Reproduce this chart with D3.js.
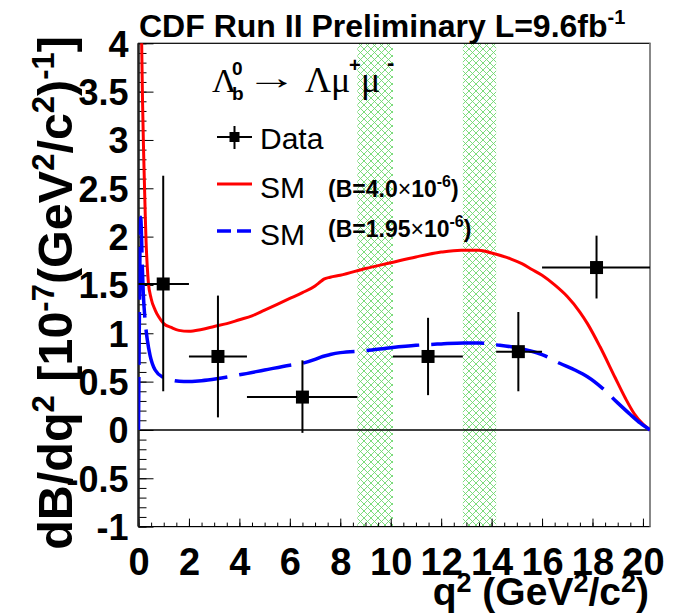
<!DOCTYPE html>
<html>
<head>
<meta charset="utf-8">
<script src="https://cdn.jsdelivr.net/npm/d3@7"></script>
<style>
body { margin: 0; background: #fff; }
text { font-family: "Liberation Sans", Arial, sans-serif; }
</style>
</head>
<body>
<svg width="675" height="613"></svg>
<script>
// measured bins, central values and symmetric errors
var binLo = [0, 2, 4.3, 10.09, 14.18, 16];
var binHi = [2, 4.3, 8.68, 12.86, 16, 20.28];
var binX = [0.98, 3.15, 6.5, 11.48, 15.06, 18.16];
var dataVal = [1.51, 0.76, 0.34, 0.76, 0.81, 1.68];
var errUp = [1.12, 0.63, 0.38, 0.40, 0.41, 0.33];
var errDown = [1.11, 0.63, 0.37, 0.40, 0.41, 0.32];

// charmonium veto regions
var vetoLo = [8.68, 12.86];
var vetoHi = [10.09, 14.18];

// SM prediction B=4.0e-6
var redQ = [0.12, 0.16, 0.2, 0.24, 0.27, 0.3, 0.35, 0.39, 0.5, 0.66, 0.8, 1.0, 1.3, 1.6, 2.0, 2.5, 3.0, 3.5, 4.0, 4.5, 5.0, 5.5, 6.0, 6.5, 7.0, 7.2, 7.35, 7.6, 8.0, 9.0, 10.0, 11.0, 12.0, 12.8, 13.5, 14.0, 14.75, 15.2, 15.6, 16.0, 16.5, 17.0, 17.5, 17.8, 18.3, 18.9, 19.3, 19.65, 20.0, 20.28];
var redV = [4.1, 3.4, 2.9, 2.5, 2.2, 1.95, 1.68, 1.53, 1.36, 1.24, 1.17, 1.10, 1.06, 1.03, 1.02, 1.04, 1.07, 1.10, 1.14, 1.18, 1.24, 1.30, 1.36, 1.42, 1.49, 1.53, 1.56, 1.58, 1.60, 1.67, 1.73, 1.79, 1.84, 1.86, 1.86, 1.83, 1.77, 1.72, 1.66, 1.60, 1.50, 1.38, 1.22, 1.10, 0.86, 0.54, 0.33, 0.17, 0.06, 0];

// SM prediction B=1.95e-6
var blueQ = [0.0, 0.03, 0.06, 0.09, 0.12, 0.15, 0.19, 0.26, 0.35, 0.46, 0.66, 1.0, 1.4, 1.8, 2.5, 3.1, 4.0, 5.0, 6.0, 6.5, 7.0, 7.3, 7.6, 8.0, 9.0, 10.0, 11.0, 12.0, 12.9, 13.5, 14.2, 15.0, 15.5, 16.0, 16.7, 17.3, 17.8, 18.4, 19.0, 19.5, 19.9, 20.28];
var blueV = [0, 1.0, 1.9, 2.2, 2.0, 1.7, 1.41, 1.14, 0.93, 0.77, 0.62, 0.54, 0.51, 0.50, 0.51, 0.53, 0.57, 0.62, 0.67, 0.69, 0.73, 0.76, 0.78, 0.80, 0.82, 0.85, 0.875, 0.89, 0.90, 0.90, 0.88, 0.85, 0.82, 0.78, 0.69, 0.62, 0.55, 0.43, 0.28, 0.16, 0.07, 0];

var xMajor = [0, 2, 4, 6, 8, 10, 12, 14, 16, 18, 20];
var yMajor = [-1, -0.5, 0, 0.5, 1, 1.5, 2, 2.5, 3, 3.5, 4];

var svg = d3.select("svg");
var pLeft = 138.5, pRight = 650, pTop = 43.3, pBottom = 526.6;

var x = d3.scaleLinear().domain([0, 20.28]).range([pLeft, pRight]);
var y = d3.scaleLinear().domain([-1, 4]).range([pBottom, pTop]);

// hatch pattern
var defs = svg.append("defs");
var pat = defs.append("pattern")
  .attr("id", "hatch")
  .attr("patternUnits", "userSpaceOnUse")
  .attr("width", 7).attr("height", 7);
pat.append("path").attr("d", "M0,0L7,7M7,0L0,7")
  .attr("stroke", "#6ed86e").attr("stroke-width", 0.9);
defs.append("clipPath").attr("id", "plotclip")
  .append("rect").attr("x", pLeft).attr("y", pTop)
  .attr("width", pRight - pLeft).attr("height", pBottom - pTop);

svg.selectAll(".veto")
  .data(vetoLo)
  .enter().append("rect")
  .attr("class", "veto")
  .attr("x", (d) => x(d))
  .attr("y", pTop)
  .attr("width", (d, i) => x(vetoHi[i]) - x(d))
  .attr("height", pBottom - pTop)
  .style("fill", "url(#hatch)");

// zero line
svg.append("line")
  .attr("x1", pLeft).attr("x2", pRight)
  .attr("y1", y(0)).attr("y2", y(0))
  .attr("stroke", "#000").attr("stroke-width", 1.5);

// axes
var xMinor = d3.range(0, 20.3, 0.5);
var yMinor = d3.range(-10, 40.5, 1).map((d) => d / 10);

svg.append("g")
  .attr("transform", "translate(0," + pBottom + ")")
  .call(d3.axisBottom(x).tickValues(xMinor).tickSize(-4).tickFormat(""))
  .call((g) => g.select(".domain").remove());

var xg = svg.append("g")
  .attr("transform", "translate(0," + pBottom + ")")
  .call(d3.axisBottom(x).tickValues(xMajor).tickSize(-8).tickPadding(0).tickFormat(d3.format("d")));
xg.select(".domain").remove();
xg.selectAll("text")
  .attr("y", 48).attr("dy", 0)
  .style("font-size", "38px").style("font-weight", "bold").style("fill", "#000");

svg.append("g")
  .attr("transform", "translate(" + pLeft + ",0)")
  .call(d3.axisLeft(y).tickValues(yMinor).tickSize(-8).tickFormat(""))
  .call((g) => g.select(".domain").remove());

var yg = svg.append("g")
  .attr("transform", "translate(" + pLeft + ",0)")
  .call(d3.axisLeft(y).tickValues(yMajor).tickSize(-15).tickPadding(0).tickFormat((d) => String(d)));
yg.select(".domain").remove();
yg.selectAll("text")
  .attr("x", -10).attr("dy", "0.36em")
  .style("font-size", "36px").style("font-weight", "bold").style("fill", "#000");

// frame
svg.append("rect")
  .attr("x", pLeft).attr("y", pTop)
  .attr("width", pRight - pLeft).attr("height", pBottom - pTop)
  .attr("fill", "none").attr("stroke", "#000").attr("stroke-width", 1.2);
svg.append("line")
  .attr("x1", pRight).attr("x2", pRight).attr("y1", pTop).attr("y2", pBottom)
  .attr("stroke", "#888").attr("stroke-width", 2);
svg.append("line")
  .attr("x1", pLeft).attr("x2", pLeft).attr("y1", pTop).attr("y2", pBottom)
  .attr("stroke", "#222").attr("stroke-width", 2.5);

// curves
var line = d3.line().curve(d3.curveMonotoneX);
var plot = svg.append("g").attr("clip-path", "url(#plotclip)");

plot.append("path")
  .attr("d", line(redQ.map((q, i) => [x(q), y(redV[i])])))
  .attr("fill", "none").attr("stroke", "#ff0000").attr("stroke-width", 3);

plot.append("path")
  .attr("d", line(blueQ.map((q, i) => [x(q), y(blueV[i])])))
  .attr("fill", "none").attr("stroke", "#0000ff").attr("stroke-width", 3.5)
  .attr("stroke-dasharray", "53,12");

// data points
var pts = svg.append("g");
binX.forEach(function(q, i) {
  pts.append("line")
    .attr("x1", x(binLo[i])).attr("x2", x(binHi[i]))
    .attr("y1", y(dataVal[i])).attr("y2", y(dataVal[i]))
    .attr("stroke", "#000").attr("stroke-width", 2);
  pts.append("line")
    .attr("x1", x(q)).attr("x2", x(q))
    .attr("y1", y(dataVal[i] + errUp[i])).attr("y2", y(dataVal[i] - errDown[i]))
    .attr("stroke", "#000").attr("stroke-width", 2);
  pts.append("rect")
    .attr("x", x(q) - 6.5).attr("y", y(dataVal[i]) - 6.5)
    .attr("width", 13).attr("height", 13)
    .attr("fill", "#000");
});

// title
var title = svg.append("text")
  .attr("x", 139).attr("y", 37)
  .style("font-size", "32px").style("font-weight", "bold")
  .text("CDF Run II Preliminary L=9.6fb");
title.append("tspan").attr("dy", -13).style("font-size", "20px").text("-1");

// axis titles
var xt = svg.append("text")
  .attr("x", 649).attr("y", 605)
  .attr("text-anchor", "end")
  .style("font-size", "39px").style("font-weight", "bold");
xt.append("tspan").text("q");
xt.append("tspan").attr("dy", -13).style("font-size", "27px").text("2");
xt.append("tspan").attr("dy", 13).text(" (GeV");
xt.append("tspan").attr("dy", -13).style("font-size", "27px").text("2");
xt.append("tspan").attr("dy", 13).text("/c");
xt.append("tspan").attr("dy", -13).style("font-size", "27px").text("2");
xt.append("tspan").attr("dy", 13).text(")");

var yt = svg.append("text")
  .attr("transform", "translate(72,36) rotate(-90)")
  .attr("text-anchor", "end")
  .style("font-size", "48.5px").style("font-weight", "bold");
yt.append("tspan").text("dB/dq");
yt.append("tspan").attr("dy", -18).style("font-size", "31px").text("2");
yt.append("tspan").attr("dy", 18).text(" [10");
yt.append("tspan").attr("dy", -18).style("font-size", "31px").text("-7");
yt.append("tspan").attr("dy", 18).text("(GeV");
yt.append("tspan").attr("dy", -18).style("font-size", "31px").text("2");
yt.append("tspan").attr("dy", 18).text("/c");
yt.append("tspan").attr("dy", -18).style("font-size", "31px").text("2");
yt.append("tspan").attr("dy", 18).text(")");
yt.append("tspan").attr("dy", -18).style("font-size", "31px").text("-1");
yt.append("tspan").attr("dy", 18).text("]");

// legend header: Lambda_b -> Lambda mu mu
var serif = "'Liberation Serif', 'Times New Roman', serif";
svg.append("text").attr("x", 212).attr("y", 92).style("font-family", serif).style("font-size", "34px").text("Λ");
svg.append("text").attr("x", 232).attr("y", 75).style("font-size", "19px").style("font-weight", "bold").text("0");
svg.append("text").attr("x", 232).attr("y", 100).style("font-size", "19px").style("font-weight", "bold").text("b");
svg.append("text").attr("x", 246).attr("y", 89).style("font-family", serif).style("font-size", "34px")
  .attr("textLength", 51).attr("lengthAdjust", "spacingAndGlyphs").text("→");
svg.append("text").attr("x", 305).attr("y", 92).style("font-family", serif).style("font-size", "36px").text("Λμ");
svg.append("text").attr("x", 349).attr("y", 72).style("font-size", "20px").style("font-weight", "bold").text("+");
svg.append("text").attr("x", 361).attr("y", 92).style("font-family", serif).style("font-size", "36px").text("μ");
svg.append("text").attr("x", 387).attr("y", 70).style("font-size", "22px").style("font-weight", "bold").text("-");

// legend entries
svg.append("line").attr("x1", 217).attr("x2", 252).attr("y1", 137).attr("y2", 137)
  .attr("stroke", "#000").attr("stroke-width", 2);
svg.append("line").attr("x1", 234.5).attr("x2", 234.5).attr("y1", 126).attr("y2", 149)
  .attr("stroke", "#000").attr("stroke-width", 2);
svg.append("rect").attr("x", 229.5).attr("y", 132).attr("width", 10).attr("height", 10).attr("fill", "#000");
svg.append("text").attr("x", 260).attr("y", 149).style("font-size", "30px").text("Data");

svg.append("line").attr("x1", 217).attr("x2", 252).attr("y1", 184).attr("y2", 184)
  .attr("stroke", "#ff0000").attr("stroke-width", 3);
svg.append("text").attr("x", 260).attr("y", 198).style("font-size", "30px").text("SM");
var b1 = svg.append("text").attr("x", 328).attr("y", 197).style("font-size", "23px").style("font-weight", "bold");
b1.append("tspan").text("(B=4.0");
b1.append("tspan").style("font-weight", "normal").text("×");
b1.append("tspan").text("10");
b1.append("tspan").attr("dy", -10).style("font-size", "16px").text("-6");
b1.append("tspan").attr("dy", 10).text(")");

svg.append("line").attr("x1", 217).attr("x2", 252).attr("y1", 231).attr("y2", 231)
  .attr("stroke", "#0000ff").attr("stroke-width", 3.5).attr("stroke-dasharray", "14,6");
svg.append("text").attr("x", 260).attr("y", 245).style("font-size", "30px").text("SM");
var b2 = svg.append("text").attr("x", 328).attr("y", 237).style("font-size", "23px").style("font-weight", "bold");
b2.append("tspan").text("(B=1.95");
b2.append("tspan").style("font-weight", "normal").text("×");
b2.append("tspan").text("10");
b2.append("tspan").attr("dy", -10).style("font-size", "16px").text("-6");
b2.append("tspan").attr("dy", 10).text(")");
</script>
</body>
</html>
